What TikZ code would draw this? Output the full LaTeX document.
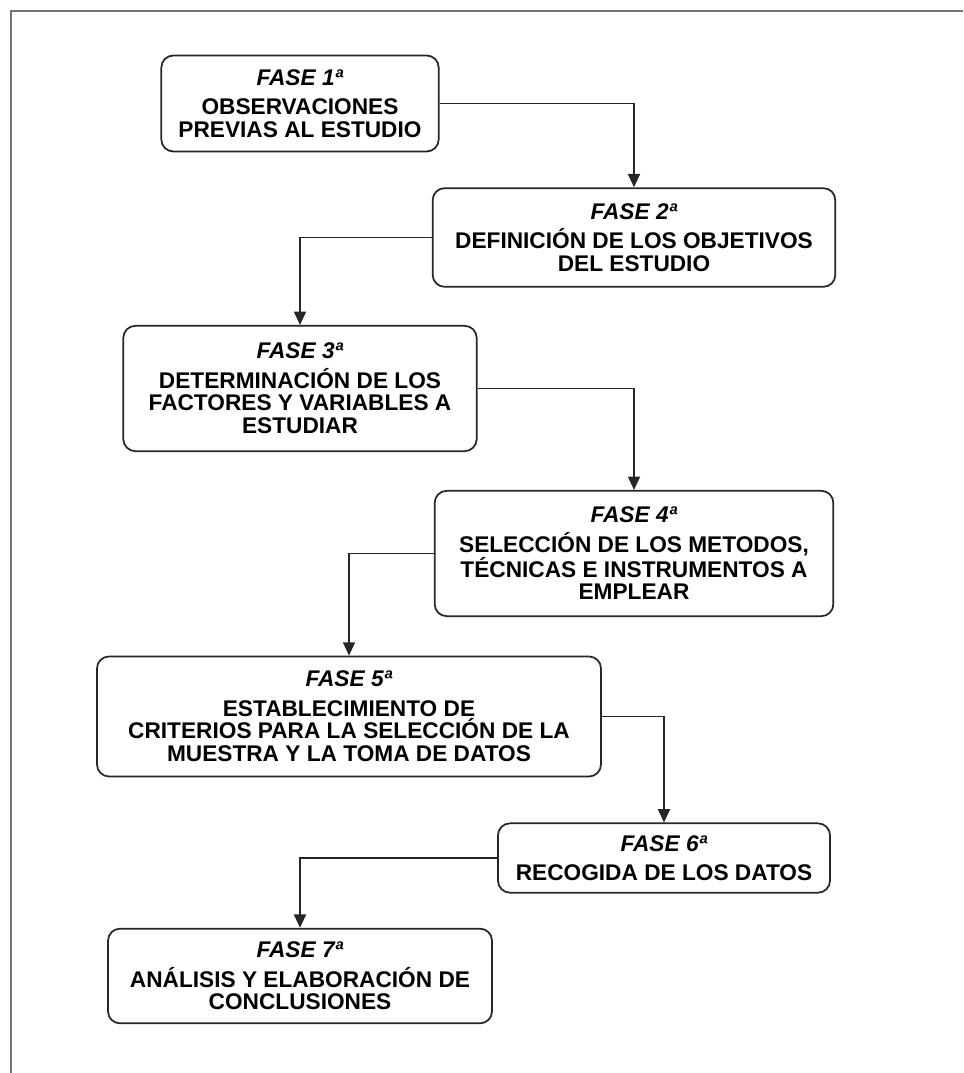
\documentclass[tikz,border=0pt]{standalone}
\usepackage{fontspec}
\setmainfont{Liberation Sans}
\usepackage{tikz}
\usetikzlibrary{arrows.meta}

\tikzset{
  fase/.style={draw=black!85, line width=1.3pt, rounded corners=9pt, align=center,
    inner sep=2pt, font=\bfseries\fontsize{17}{17}\selectfont},
  flecha/.style={draw=black!85, line width=1.3pt, -{Triangle[length=10pt,width=9pt]}},
}
\newcommand{\fasetit}[1]{\textit{FASE #1ª}\\[5pt]}

\begin{document}
\begin{tikzpicture}[x=0.75pt,y=-0.75pt]
\useasboundingbox (0,0) rectangle (963,1073);
% marco
\draw[gray!90!black, line width=2pt] (963,11) -- (11,11) -- (11,1073);
% fases
\node[fase, minimum width=208pt, minimum height=72pt] (f1) at (300,103.5)
  {\fasetit{1}OBSERVACIONES\\PREVIAS AL ESTUDIO};
\node[fase, minimum width=302pt, minimum height=74pt] (f2) at (634,237.5)
  {\fasetit{2}DEFINICIÓN DE LOS OBJETIVOS\\DEL ESTUDIO};
\node[fase, minimum width=265pt, minimum height=94pt] (f3) at (300,388.5)
  {\fasetit{3}DETERMINACIÓN DE LOS\\FACTORES Y VARIABLES A\\ESTUDIAR};
\node[fase, minimum width=299pt, minimum height=94pt] (f4) at (634,553.5)
  {\fasetit{4}SELECCIÓN DE LOS METODOS,\\TÉCNICAS E INSTRUMENTOS A\\EMPLEAR};
\node[fase, minimum width=378pt, minimum height=90pt] (f5) at (349,716.5)
  {\fasetit{5}ESTABLECIMIENTO DE\\CRITERIOS PARA LA SELECCIÓN DE LA\\MUESTRA Y LA TOMA DE DATOS};
\node[fase, minimum width=249pt, minimum height=52pt] (f6) at (664,858)
  {\fasetit{6}RECOGIDA DE LOS DATOS};
\node[fase, minimum width=288pt, minimum height=71pt] (f7) at (300,976)
  {\fasetit{7}ANÁLISIS Y ELABORACIÓN DE\\CONCLUSIONES};
% conexiones
\draw[flecha] (f1.east) -| (f2.north);
\draw[flecha] (f2.west) -| (f3.north);
\draw[flecha] (f3.east) -| (f4.north);
\draw[flecha] (f4.west) -| (f5.north);
\draw[flecha] (f5.east) -| (f6.north);
\draw[flecha] (f6.west) -| (f7.north);
\end{tikzpicture}
\end{document}
